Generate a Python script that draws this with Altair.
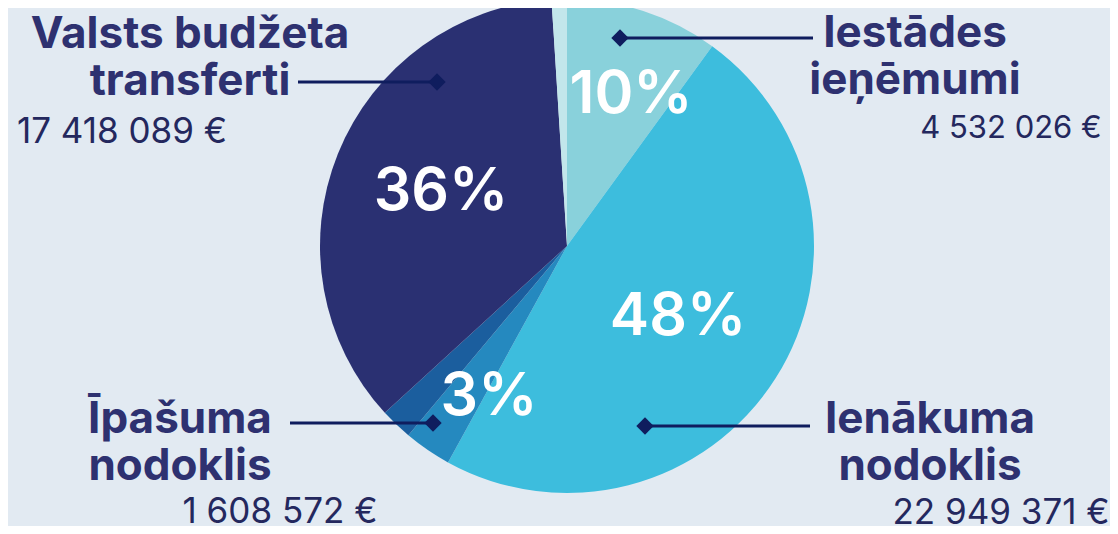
import altair as alt
import pandas as pd

# ---- data ----
slice_names = ["Iestādes ieņēmumi", "Ienākuma nodoklis", "Īpašuma nodoklis",
               "Citi ieņēmumi A", "Valsts budžeta transferti", "Citi ieņēmumi B"]
slice_shares = [10.0, 48.0, 3.1, 2.1, 35.8, 1.0]
slice_colors = ["#89D1DB", "#3DBDDD", "#2589BF", "#1B5E9E", "#2A3072", "#C2E6EB"]

pct_labels = ["10%", "48%", "3%", "36%"]
category_labels = ["Iestādes\nieņēmumi", "Ienākuma\nnodoklis",
                   "Īpašuma\nnodoklis", "Valsts budžeta\ntransferti"]
amounts = ["4 532 026 €", "22 949 371 €", "1 608 572 €", "17 418 089 €"]

# ---- layout (reference pixel positions) ----
PIE_CX, PIE_CY, PIE_R = 567, 246, 247
pct_pos = [(631, 113), (678, 335), (489, 415), (441, 210)]
label_pos = [(915, 47), (930, 433), (180, 433), (190, 48)]
amount_pos = [(1011, 138), (1001, 524), (280, 523), (122, 143)]
amount_size = [31, 35, 35, 35]
leader_x1 = [620, 645, 290, 298]
leader_x2 = [813, 810, 433, 437]
leader_y = [38, 426, 423, 82]
diamond_x = [620, 645, 433, 437]

W, H = 1102, 518
xs = alt.Scale(domain=[8, 8 + W], nice=False, zero=False)
ys = alt.Scale(domain=[8, 8 + H], nice=False, zero=False, reverse=True)

pie_df = pd.DataFrame({
    "name": slice_names, "share": slice_shares,
    "idx": list(range(len(slice_names))),
    "cx": [PIE_CX] * len(slice_names), "cy": [PIE_CY] * len(slice_names),
})
pct_df = pd.DataFrame({"t": pct_labels, "x": [p[0] for p in pct_pos], "y": [p[1] for p in pct_pos]})
lab_df = pd.DataFrame({"t": category_labels, "x": [p[0] for p in label_pos], "y": [p[1] for p in label_pos]})
amt_df = pd.DataFrame({"t": amounts, "x": [p[0] for p in amount_pos],
                       "y": [p[1] for p in amount_pos], "fs": amount_size})
lead_df = pd.DataFrame({"x1": leader_x1, "x2": leader_x2, "y": leader_y, "dx": diamond_x})

X = lambda f: alt.X(f, type="quantitative", scale=xs, axis=None)
Y = lambda f: alt.Y(f, type="quantitative", scale=ys, axis=None)

pie = alt.Chart(pie_df).mark_arc(radius=PIE_R, stroke=None).encode(
    theta=alt.Theta("share:Q", stack=True),
    color=alt.Color("name:N", scale=alt.Scale(domain=slice_names, range=slice_colors), legend=None),
    order=alt.Order("idx:Q"),
    x=X("cx"), y=Y("cy"),
)

pct = alt.Chart(pct_df).mark_text(
    font="Inter", fontSize=59, fontWeight=600, color="white",
    align="center", baseline="alphabetic"
).encode(x=X("x"), y=Y("y"), text="t:N")

labels = alt.Chart(lab_df).mark_text(
    font="Inter", fontSize=44, fontWeight=700, color="#2E3170",
    align="center", baseline="alphabetic", lineBreak="\n", lineHeight=47
).encode(x=X("x"), y=Y("y"), text="t:N")

amts = alt.Chart(amt_df).mark_text(
    font="Inter", fontWeight=400, color="#24285E",
    align="center", baseline="alphabetic"
).encode(x=X("x"), y=Y("y"), text="t:N", size=alt.Size("fs:Q", scale=None, legend=None))

lines = alt.Chart(lead_df).mark_rule(color="#0F1D5E", strokeWidth=3.2).encode(
    x=X("x1"), x2="x2:Q", y=Y("y")
)
diamonds = alt.Chart(lead_df).mark_point(
    shape="diamond", filled=True, size=300, color="#0F1D5E", opacity=1
).encode(x=X("dx"), y=Y("y"))

chart = alt.layer(pie, pct, lines, diamonds, labels, amts).properties(
    width=W, height=H,
    autosize=alt.AutoSizeParams(type="none"),
    padding=0,
    background="#E2EAF2",
).configure_view(stroke=None)

chart.save("out.html", embed_options={"renderer": "svg", "actions": False})
